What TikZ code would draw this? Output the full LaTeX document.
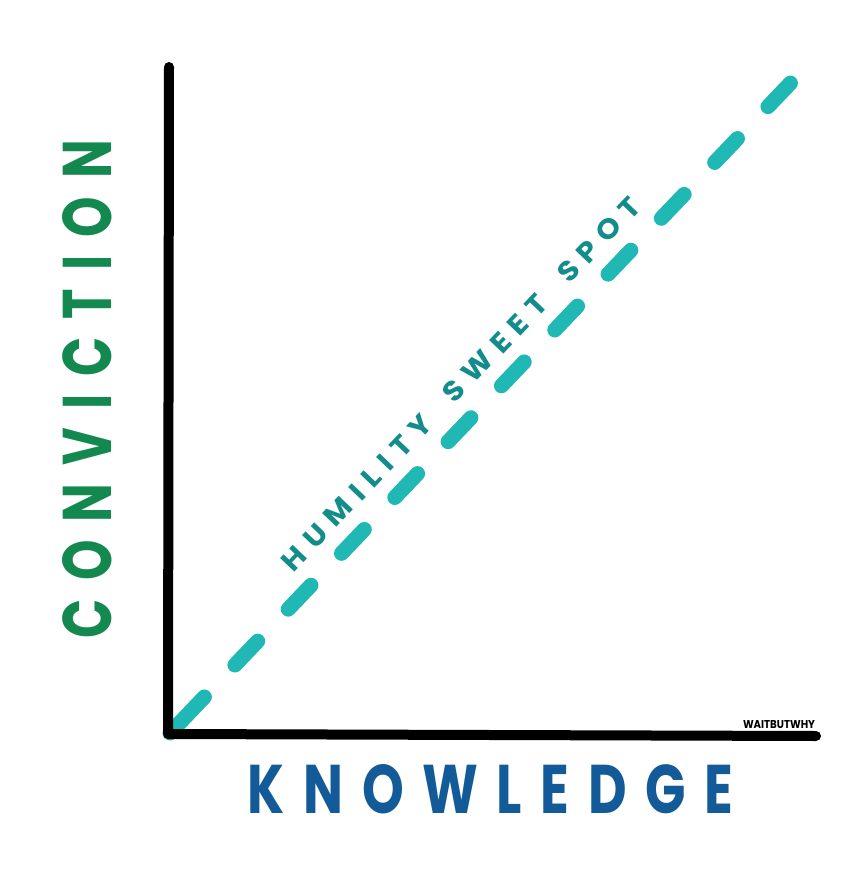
\documentclass[tikz,border=0pt]{standalone}
\usepackage{fontspec}
\usepackage{graphicx}
\newfontfamily\handfont[LetterSpace=35]{Poppins}
\newfontfamily\spotfont[LetterSpace=30]{Poppins}
\newfontfamily\wbwfont{Poppins}
\definecolor{convgreen}{HTML}{13884F}
\definecolor{knowblue}{HTML}{125A98}
\definecolor{dashteal}{HTML}{1FB8B5}
\definecolor{textteal}{HTML}{138D8C}
\tikzset{
  axisline/.style={line width=10pt, black, line cap=round, line join=round},
  sweetline/.style={line width=15pt, dashteal, line cap=round,
    dash pattern={on 49.8pt off 44.2pt on 33pt off 44.2pt on 33pt off 44.2pt on 33pt off 44.2pt on 33pt off 44.2pt on 33pt off 44.2pt on 33pt off 44.2pt on 33pt off 44.2pt on 33pt off 44.2pt on 33pt off 44.2pt on 33pt off 44.2pt on 40pt off 300pt}},
  lbl/.style={inner sep=0pt, outer sep=0pt, anchor=center}
}
\begin{document}
\begin{tikzpicture}[x=1pt,y=-1pt]
\useasboundingbox[fill=white] (0,0) rectangle (862,877);
\coordinate (origin) at (170,733);
\coordinate (tip) at (790.4,83.1);
\coordinate (ytop) at (169,67);
\coordinate (corner) at (168,734);
\coordinate (xend) at (816,736);
\draw[sweetline] (origin) -- (tip);
\draw[axisline] (ytop) -- (corner) -- (xend);
\node[lbl, rotate=90, text=convgreen] (conv) at (87.5,389)
  {\resizebox{498pt}{49pt}{\handfont\bfseries CONVICTION}};
\node[lbl, text=knowblue] (know) at (490.5,789.5)
  {\resizebox{485pt}{49pt}{\handfont\bfseries KNOWLEDGE}};
\node[lbl, rotate=46.26, text=textteal] (spot) at (461,384)
  {\resizebox{505pt}{20pt}{\spotfont\bfseries HUMILITY\ \hspace{0.45em}SWEET\ \hspace{0.45em}SPOT}};
\node[lbl, text=black] (wbw) at (779,725)
  {\resizebox{72pt}{8pt}{\wbwfont\bfseries WAITBUTWHY}};
\end{tikzpicture}
\end{document}
